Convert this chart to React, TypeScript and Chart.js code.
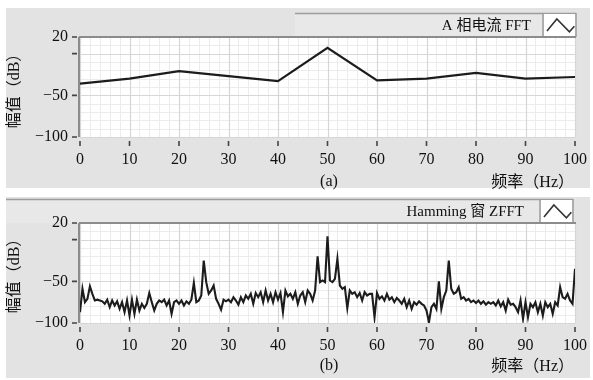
import React, { useEffect, useRef } from "react";
import { Chart, registerables } from "chart.js";

Chart.register(...registerables);

// ---------------- data ----------------
const topFreq = [0, 10, 20, 30, 40, 50, 60, 70, 80, 90, 100];
const topAmp = [-36, -30, -21, -27, -33, 7, -32, -30, -23, -30, -28];

const bottomStep = 0.5; // Hz between samples, starting at 0 Hz
const bottomAmp = [
  -87, -59, -75, -71, -56, -65, -73, -72, -73, -74,
  -77, -72, -81, -73, -79, -74, -83, -75, -87, -73,
  -91, -72, -89, -72, -85, -77, -82, -77, -64, -75,
  -85, -77, -73, -75, -72, -79, -73, -89, -75, -73,
  -77, -73, -79, -74, -77, -72, -52, -75, -73, -67,
  -25, -51, -65, -61, -55, -71, -77, -84, -72, -74,
  -72, -75, -69, -73, -78, -69, -75, -67, -71, -65,
  -77, -64, -69, -63, -75, -61, -73, -65, -75, -63,
  -72, -64, -87, -61, -68, -65, -71, -63, -77, -67,
  -63, -75, -61, -65, -73, -61, -20, -51, -49, -51,
  4, -49, -51, -47, -23, -55, -59, -57, -82, -61,
  -65, -63, -69, -64, -73, -63, -67, -65, -65, -93,
  -64, -71, -68, -73, -65, -72, -69, -75, -70, -73,
  -77, -71, -81, -73, -83, -75, -78, -74, -77, -79,
  -85, -99, -81, -77, -83, -50, -83, -69, -61, -25,
  -59, -65, -63, -57, -71, -69, -73, -71, -75, -73,
  -76, -73, -77, -74, -78, -75, -77, -75, -79, -73,
  -80, -75, -85, -72, -78, -77, -81, -87, -73, -95,
  -75, -93, -77, -81, -75, -87, -77, -91, -75, -81,
  -77, -89, -75, -79, -57, -69, -71, -65, -73, -77,
  -35,
];

const xTickValues = [0, 10, 20, 30, 40, 50, 60, 70, 80, 90, 100];
const xTickLabels = ["0", "10", "20", "30", "40", "50", "60", "70", "80", "90", "100"];
const yTickValues = [20, 0, -50, -100];
const yTickLabels = ["20", "", "\u221250", "\u2212100"];

const topLegend = "A 相电流 FFT";
const bottomLegend = "Hamming 窗 ZFFT";
const topCaption = "(a)";
const bottomCaption = "(b)";
const xTitle = "频率（Hz）";
const yTitle = "幅值（dB）";

// ---------------- layout / style ----------------
const W = 593;
const H = 190;
const PLOT_LEFT = 80;
const PLOT_RIGHT = 575;
const FONT = "'Liberation Serif', 'Noto Sans CJK SC', serif";
const PANEL_GRAY = "#e3e3e3";

type Geom = {
  panelTop: number;
  panelBottom: number;
  plotTop: number;
  plotBottom: number;
  legendTop: number;
  legendLeft: number;
  legendRight: number;
  legendTextRight: number;
  iconRight: number;
  captionY: number;
  yTitleY: number;
};

const topGeom: Geom = {
  panelTop: 8,
  panelBottom: 188,
  plotTop: 37,
  plotBottom: 137,
  legendTop: 13,
  legendLeft: 295,
  legendRight: 543,
  legendTextRight: 531,
  iconRight: 576,
  captionY: 182,
  yTitleY: 87,
};

const bottomGeom: Geom = {
  panelTop: 7,
  panelBottom: 188,
  plotTop: 33,
  plotBottom: 133,
  legendTop: 9,
  legendLeft: 6,
  legendRight: 540,
  legendTextRight: 524,
  iconRight: 573,
  captionY: 176,
  yTitleY: 82,
};

function makePlugin(g: Geom, legend: string, caption: string) {
  return {
    id: "labviewLook",
    beforeDraw(chart: any) {
      const ctx = chart.ctx as CanvasRenderingContext2D;
      const xs = chart.scales.x;
      const ys = chart.scales.y;
      const a = chart.chartArea;
      ctx.save();
      ctx.fillStyle = "#ffffff";
      ctx.fillRect(0, 0, W, H);
      ctx.fillStyle = PANEL_GRAY;
      ctx.fillRect(6, g.panelTop, 584, g.panelBottom - g.panelTop);

      // legend box
      ctx.fillStyle = "#e8e8e8";
      ctx.fillRect(g.legendLeft, g.legendTop, g.legendRight - g.legendLeft, a.top - g.legendTop);
      ctx.strokeStyle = "#9c9c9c";
      ctx.lineWidth = 1.5;
      ctx.beginPath();
      ctx.moveTo(g.legendLeft, g.legendTop + 0.5);
      ctx.lineTo(g.iconRight, g.legendTop + 0.5);
      ctx.moveTo(g.legendRight, g.legendTop);
      ctx.lineTo(g.legendRight, a.top);
      ctx.moveTo(g.iconRight, g.legendTop);
      ctx.lineTo(g.iconRight, a.top);
      ctx.stroke();
      ctx.fillStyle = "#ffffff";
      ctx.fillRect(g.legendRight + 1, g.legendTop + 1, g.iconRight - g.legendRight - 2, a.top - g.legendTop - 1);

      // plot area
      ctx.fillStyle = "#ffffff";
      ctx.fillRect(a.left, a.top, a.right - a.left, a.bottom - a.top);

      // minor grid
      ctx.strokeStyle = "#ececec";
      ctx.lineWidth = 1;
      ctx.beginPath();
      for (let f = 0; f <= 100; f += 2) {
        const px = Math.round(xs.getPixelForValue(f)) + 0.5;
        ctx.moveTo(px, a.top);
        ctx.lineTo(px, a.bottom);
      }
      for (let v = -100; v <= 20; v += 10) {
        const py = Math.round(ys.getPixelForValue(v)) + 0.5;
        ctx.moveTo(a.left, py);
        ctx.lineTo(a.right, py);
      }
      ctx.stroke();

      // major grid
      ctx.strokeStyle = "#d6d6d6";
      ctx.lineWidth = 1.2;
      ctx.beginPath();
      xTickValues.forEach((f) => {
        const px = Math.round(xs.getPixelForValue(f)) + 0.5;
        ctx.moveTo(px, a.top);
        ctx.lineTo(px, a.bottom);
      });
      yTickValues.forEach((v) => {
        const py = Math.round(ys.getPixelForValue(v)) + 0.5;
        ctx.moveTo(a.left, py);
        ctx.lineTo(a.right, py);
      });
      ctx.stroke();

      // borders (top, left)
      ctx.strokeStyle = "#8c8c8c";
      ctx.lineWidth = 2;
      ctx.beginPath();
      ctx.moveTo(a.left - 1, a.top);
      ctx.lineTo(a.right + 1, a.top);
      ctx.moveTo(a.left - 1, a.top);
      ctx.lineTo(a.left - 1, a.bottom);
      ctx.stroke();

      // tick marks
      ctx.strokeStyle = "#444444";
      ctx.lineWidth = 1.6;
      ctx.beginPath();
      yTickValues.forEach((v) => {
        const py = ys.getPixelForValue(v);
        ctx.moveTo(a.left - 8, py);
        ctx.lineTo(a.left - 3, py);
      });
      xTickValues.forEach((f) => {
        const px = xs.getPixelForValue(f);
        ctx.moveTo(px, a.bottom + 4);
        ctx.lineTo(px, a.bottom + 9);
      });
      ctx.stroke();
      ctx.restore();
    },
    afterDraw(chart: any) {
      const ctx = chart.ctx as CanvasRenderingContext2D;
      const a = chart.chartArea;
      ctx.save();
      ctx.fillStyle = "#111111";
      ctx.textBaseline = "middle";

      // legend text
      ctx.font = `15px ${FONT}`;
      ctx.textAlign = "right";
      ctx.fillText(legend, g.legendTextRight, (g.legendTop + a.top) / 2 + 1);

      // legend icon
      const bx = g.legendRight;
      const bw = g.iconRight - g.legendRight;
      const by = g.legendTop;
      const bh = a.top - g.legendTop;
      ctx.strokeStyle = "#333333";
      ctx.lineWidth = 1.6;
      ctx.beginPath();
      ctx.moveTo(bx + bw * 0.12, by + bh * 0.75);
      ctx.lineTo(bx + bw * 0.42, by + bh * 0.25);
      ctx.lineTo(bx + bw * 0.8, by + bh * 0.78);
      ctx.lineTo(bx + bw * 0.95, by + bh * 0.55);
      ctx.stroke();

      // captions
      ctx.font = `16px ${FONT}`;
      ctx.textAlign = "center";
      ctx.fillText(caption, 329, g.captionY);
      ctx.font = `16px ${FONT}`;
      ctx.textAlign = "right";
      ctx.fillText(xTitle, 574, g.captionY + 1);

      // y title
      ctx.translate(15, g.yTitleY);
      ctx.rotate(-Math.PI / 2);
      ctx.textAlign = "center";
      ctx.font = `16px ${FONT}`;
      ctx.fillText(yTitle, 0, 0);
      ctx.restore();
    },
  };
}

function makeConfig(points: { x: number; y: number }[], g: Geom, legend: string, caption: string, lw: number) {
  return {
    type: "line" as const,
    data: {
      datasets: [
        {
          label: legend,
          data: points,
          borderColor: "#1c1c1c",
          borderWidth: lw,
          pointRadius: 0,
          tension: 0,
          fill: false,
        },
      ],
    },
    options: {
      responsive: false,
      animation: false,
      devicePixelRatio: 1,
      events: [],
      layout: { padding: { left: 0, right: W - PLOT_RIGHT, top: g.plotTop, bottom: 0 } },
      plugins: { legend: { display: false }, tooltip: { enabled: false }, title: { display: false } },
      scales: {
        x: {
          type: "linear",
          min: 0,
          max: 100,
          afterFit: (s: any) => {
            s.height = H - g.plotBottom;
            s.paddingLeft = 0;
            s.paddingRight = 0;
          },
          afterBuildTicks: (s: any) => {
            s.ticks = xTickValues.map((v) => ({ value: v }));
          },
          grid: { display: true, drawOnChartArea: false, drawTicks: false, color: "rgba(0,0,0,0)" },
          border: { display: false },
          ticks: {
            autoSkip: false,
            maxRotation: 0,
            padding: 13,
            color: "#111111",
            font: { family: FONT, size: 16 },
            callback: (_v: any, i: number) => xTickLabels[i],
          },
        },
        y: {
          type: "linear",
          min: -100,
          max: 20,
          afterFit: (s: any) => {
            s.width = PLOT_LEFT;
            s.paddingTop = 0;
            s.paddingBottom = 0;
          },
          afterBuildTicks: (s: any) => {
            s.ticks = yTickValues.map((v) => ({ value: v }));
          },
          grid: { display: true, drawOnChartArea: false, drawTicks: false, color: "rgba(0,0,0,0)" },
          border: { display: false },
          ticks: {
            autoSkip: false,
            padding: 12,
            color: "#111111",
            font: { family: FONT, size: 16 },
            callback: (_v: any, i: number) => yTickLabels[i],
          },
        },
      },
    },
    plugins: [makePlugin(g, legend, caption)],
  };
}

export default function App() {
  const topRef = useRef<HTMLCanvasElement | null>(null);
  const botRef = useRef<HTMLCanvasElement | null>(null);

  useEffect(() => {
    const topPoints = topFreq.map((f, i) => ({ x: f, y: topAmp[i] }));
    const botPoints = bottomAmp.map((v, i) => ({ x: i * bottomStep, y: v }));
    const c1 = new Chart(topRef.current as HTMLCanvasElement, makeConfig(topPoints, topGeom, topLegend, topCaption, 2.2) as any);
    const c2 = new Chart(botRef.current as HTMLCanvasElement, makeConfig(botPoints, bottomGeom, bottomLegend, bottomCaption, 2.1) as any);
    return () => {
      c1.destroy();
      c2.destroy();
    };
  }, []);

  return (
    <div style={{ position: "absolute", left: 0, top: 0, width: W, height: 380, background: "#ffffff" }}>
      <canvas ref={topRef} width={W} height={H} style={{ position: "absolute", left: 0, top: 0, width: W, height: H }} />
      <canvas ref={botRef} width={W} height={H} style={{ position: "absolute", left: 0, top: 190, width: W, height: H }} />
    </div>
  );
}
